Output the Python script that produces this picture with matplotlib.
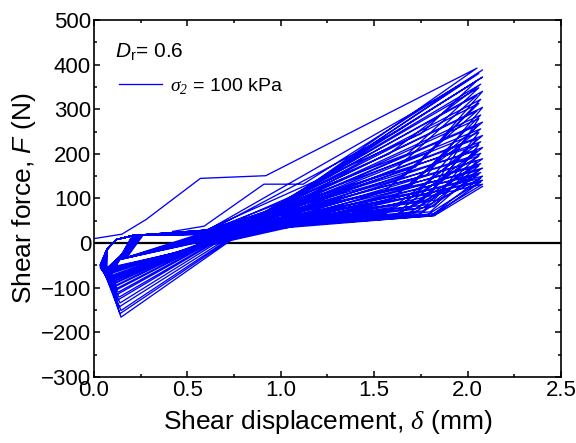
import matplotlib
matplotlib.use("Agg")
import matplotlib.pyplot as plt

plt.rcParams['font.family'] = ['Liberation Sans', 'DejaVu Sans']
plt.rcParams['mathtext.fontset'] = 'custom'
plt.rcParams['mathtext.rm'] = 'Liberation Sans'
plt.rcParams['mathtext.it'] = 'Liberation Sans:italic'
plt.rcParams['mathtext.cal'] = 'Liberation Serif:italic'

# first loading branch (mm, N)
first_x = [0.0, 0.15, 0.28, 0.57, 0.92, 2.05]
first_f = [10, 20, 53, 145, 151, 392]

# second loading branch, middle part
second_x = [0.42, 0.59, 0.91, 1.12]
second_f = [26, 38, 132, 132]

# per-cycle values
peak_x = [2.08, 2.06, 2.08, 2.05, 2.07, 2.06, 2.08, 2.05, 2.07, 2.06,
          2.08, 2.05, 2.07, 2.06, 2.08, 2.05, 2.07, 2.06, 2.08, 2.05,
          2.07, 2.06, 2.08, 2.05, 2.07, 2.06, 2.08, 2.05, 2.07, 2.06,
          2.08, 2.06, 2.07, 2.06, 2.08, 2.07, 2.08, 2.07, 2.08, 2.08]
peak_f = [388, 380, 372, 364, 356, 348, 340, 331, 322, 313,
          304, 296, 287, 279, 271, 263, 256, 248, 241, 234,
          227, 220, 214, 207, 201, 195, 189, 184, 178, 173,
          168, 163, 158, 154, 150, 145, 141, 137, 132, 127]
deep_x = [0.145, 0.14, 0.145, 0.135, 0.14, 0.13, 0.135, 0.125, 0.13, 0.12,
          0.125, 0.115, 0.12, 0.11, 0.115, 0.105, 0.11, 0.10, 0.105, 0.10,
          0.095, 0.10, 0.09, 0.095, 0.09, 0.085, 0.09, 0.08, 0.085, 0.08,
          0.075, 0.08, 0.075, 0.07, 0.075, 0.07, 0.065, 0.07, 0.065, 0.06]
deep_f = [-166, -158, -151, -143, -134, -127, -121, -115, -110, -105,
          -101, -97, -94, -91, -88, -86, -84, -82, -80, -78,
          -76, -75, -73, -72, -70, -69, -68, -67, -66, -65,
          -64, -63, -62, -61, -60, -60, -59, -58, -58, -57]
left_x = [0.07, 0.06, 0.065, 0.055, 0.06, 0.05, 0.055, 0.045, 0.05, 0.04,
          0.045, 0.04, 0.045, 0.035, 0.04, 0.035, 0.04, 0.035, 0.04, 0.035,
          0.04, 0.035, 0.04, 0.035, 0.04, 0.035, 0.04, 0.035, 0.04, 0.035,
          0.04, 0.035, 0.04, 0.035, 0.04, 0.035, 0.04, 0.035, 0.04, 0.035]
left_f = [-72, -70, -68, -66, -64, -63, -62, -61, -60, -59,
          -58, -57, -56, -56, -55, -55, -54, -54, -53, -53,
          -52, -52, -52, -51, -51, -51, -50, -50, -50, -50,
          -50, -49, -49, -49, -49, -48, -48, -48, -48, -48]
flat_f = [22, 27, 24, 29, 21, 26, 23, 28, 20, 25,
          22, 27, 24, 29, 21, 26, 23, 28, 20, 25,
          22, 27, 24, 29, 21, 26, 23, 28, 20, 25,
          22, 27, 24, 29, 21, 26, 23, 28, 20, 25]
mid_x = [1.80, 1.70, 1.62, 1.75, 1.58, 1.68, 1.80, 1.60, 1.72, 1.66,
         1.78, 1.56, 1.70, 1.84, 1.62, 1.74, 1.58, 1.80, 1.66, 1.76,
         1.60, 1.82, 1.70, 1.64, 1.78, 1.56, 1.72, 1.82, 1.62, 1.76,
         1.68, 1.80, 1.58, 1.74, 1.82, 1.66, 1.78, 1.82, 1.80, 1.82]
mid_f = [0, 290, 250, 245, 200, 200, 205, 160, 170, 150,
         152, 118, 130, 140, 108, 115, 96, 110, 90, 96,
         80, 96, 82, 74, 86, 66, 76, 82, 64, 72,
         66, 70, 56, 64, 66, 58, 62, 62, 61, 61]

# shared shape of the reloading hump (mm, N)
rise_x = [0.07, 0.12, 0.21]
rise_f = [-14, 8, 17]
flat_x = 0.6

# small hairpins near the origin in later cycles
hair_cycles = [22, 24, 26, 28, 30, 32, 34, 36, 38]
hair_lo_x = [0.13, 0.14, 0.145, 0.15, 0.155, 0.16, 0.165, 0.17, 0.175]
hair_lo_f = [-38, -37, -36, -36, -35, -35, -34, -34, -33]
hair_hi_x = [0.20, 0.21, 0.215, 0.22, 0.23, 0.235, 0.24, 0.25, 0.26]
hair_hi_f = [12, 13, 13, 14, 14, 15, 15, 16, 16]

disp = list(first_x)
force = list(first_f)
for k in range(len(peak_f)):
    if k in hair_cycles:
        h = hair_cycles.index(k)
        disp += [hair_lo_x[h], hair_hi_x[h]]
        force += [hair_lo_f[h], hair_hi_f[h]]
    disp += [deep_x[k], left_x[k]] + rise_x + [flat_x]
    force += [deep_f[k], left_f[k]] + rise_f + [flat_f[k]]
    if k == 0:
        disp += second_x
        force += second_f
    else:
        disp.append(mid_x[k])
        force.append(mid_f[k])
    disp.append(peak_x[k])
    force.append(peak_f[k])

fig = plt.figure(figsize=(5.76, 4.43), dpi=100)
ax = fig.add_axes([0.163, 0.149, 0.811, 0.806])

ax.axhline(0, color='black', lw=1.6, zorder=1)
ax.plot(disp, force, color='#0000ff', lw=0.95, label=r'$\mathcal{\sigma}_{\mathcal{2}}$ = 100 kPa', zorder=2)

ax.set_xlim(0, 2.5)
ax.set_ylim(-300, 500)
ax.set_xticks([0.0, 0.5, 1.0, 1.5, 2.0, 2.5])
ax.set_xticks([0.25, 0.75, 1.25, 1.75, 2.25], minor=True)
ax.set_yticks(range(-300, 501, 100))
ax.set_yticks(range(-250, 500, 100), minor=True)
ax.set_xticklabels(['0.0', '0.5', '1.0', '1.5', '2.0', '2.5'])
ax.tick_params(which='both', direction='in', top=True, right=True, labelsize=16, width=1.1)
ax.tick_params(which='major', length=4.5, pad=2)
ax.tick_params(which='minor', length=2.5)
for s in ax.spines.values():
    s.set_linewidth(1.2)

ax.set_xlabel(r'Shear displacement, $\mathcal{\delta}$ (mm)', fontsize=19, labelpad=5)
ax.set_ylabel(r'Shear force, $\mathit{F}$ (N)', fontsize=19, labelpad=2)

ax.text(0.045, 0.908, r'$\mathit{D}_\mathrm{r}$= 0.6', transform=ax.transAxes, fontsize=15, va='center')
ax.legend(loc='upper left', bbox_to_anchor=(0.037, 0.866), frameon=False, fontsize=14,
          handlelength=2.2, handletextpad=0.4, borderaxespad=0)

fig.savefig('out.png', dpi=100)
